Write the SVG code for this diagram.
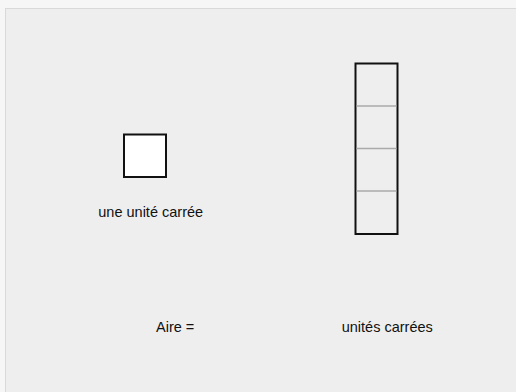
<svg xmlns="http://www.w3.org/2000/svg" width="516" height="392" viewBox="0 0 516 392">
  <style>
    .lbl { font-family: "Liberation Sans", Arial, sans-serif; font-size: 14.5px; fill: #111; }
    .box { stroke: #111; stroke-width: 2; }
    .grid { stroke: #aaaaaa; stroke-width: 1.5; }
  </style>
  <rect x="0" y="0" width="516" height="392" fill="#f6f6f6"/>
  <rect x="5.5" y="8.5" width="520" height="400" fill="#eeeeee" stroke="#d9d9d9" stroke-width="1"/>
  <g id="unit-square">
    <rect class="box" x="124" y="134.5" width="42" height="42.5" fill="#ffffff"/>
    <text class="lbl" x="98.3" y="217">une unité carrée</text>
  </g>
  <g id="tall-rect">
    <rect class="box" x="355.5" y="63.5" width="42" height="170.5" fill="none"/>
    <line class="grid" x1="356.5" y1="106" x2="396.5" y2="106"/>
    <line class="grid" x1="356.5" y1="148.5" x2="396.5" y2="148.5"/>
    <line class="grid" x1="356.5" y1="191" x2="396.5" y2="191"/>
  </g>
  <g id="area">
    <text class="lbl" x="156" y="331.5">Aire =</text>
    <text class="lbl" x="341.7" y="331.5">unités carrées</text>
  </g>
</svg>
